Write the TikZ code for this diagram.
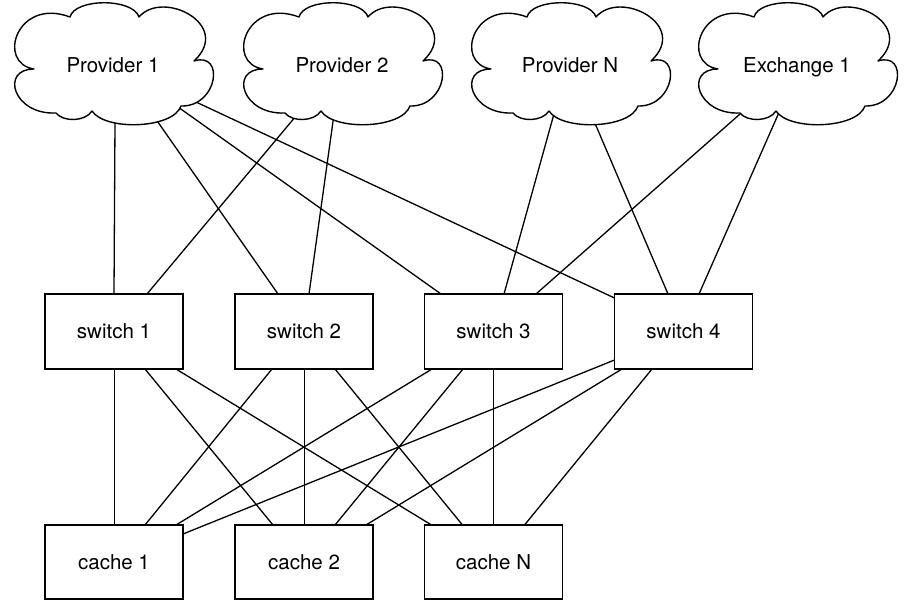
\documentclass[tikz,border=0pt]{standalone}
\usepackage{fontspec}
\setmainfont{TeX Gyre Heros}
\pgfdeclarelayer{paper}
\pgfdeclarelayer{background}
\pgfsetlayers{paper,background,main}
\tikzset{
  cloudline/.style={draw=black, line width=1.4pt, fill=white, line join=round},
  cloudshape/.pic={
    \path[cloudline] (-43,-48)
      .. controls (-38,-67) and (20,-67) .. (26,-48)
      .. controls (50,-76) and (120,-40) .. (81,-4)
      .. controls (112,-14) and (105,42) .. (68,41)
      .. controls (60,64) and (-8,66) .. (-21,46)
      .. controls (-28,57) and (-50,57) .. (-57,48)
      .. controls (-100,50) and (-113,4) .. (-79,4)
      .. controls (-117,-2) and (-96,-68) .. (-43,-48) -- cycle;
  },
  lbl/.style={font=\fontsize{20.5}{24}\selectfont, inner sep=0pt,
    text height=14.8pt, text depth=0pt},
  box/.style={draw=black, line width=1.4pt, fill=white, minimum width=138pt,
    minimum height=75pt, inner sep=0pt, outer sep=0pt,
    text height=14.8pt, text depth=0pt,
    font=\fontsize{20.5}{24}\selectfont},
  cbox/.style={box, minimum height=74pt},
  conn/.style={draw=black, line width=1.3pt},
  toc/.style={conn, shorten >=-10pt}
}
\begin{document}
\begin{tikzpicture}[x=1pt, y=-1pt]
\begin{pgfonlayer}{paper}
\fill[white] (0,0) rectangle (905,600);
\end{pgfonlayer}
\useasboundingbox (0,0) rectangle (905,600);

% clouds
\pic at (113,65) {cloudshape};
\node[lbl] (p1) at (113,65) {Provider 1};
\pic at (342,65) {cloudshape};
\node[lbl] (p2) at (342,65) {Provider 2};
\pic at (570,65) {cloudshape};
\node[lbl] (pn) at (570,65) {Provider N};
\pic at (797,65) {cloudshape};
\node[lbl] (e1) at (797,65) {Exchange 1};

% switches
\node[box] (s1) at (114,331.5) {switch 1};
\node[box] (s2) at (304,331.5) {switch 2};
\node[box] (s3) at (493.5,331.5) {switch 3};
\node[box] (s4) at (683.5,331.5) {switch 4};

% caches
\node[cbox] (c1) at (114,562) {cache 1};
\node[cbox] (c2) at (304,562) {cache 2};
\node[cbox] (cn) at (493.5,562) {cache N};

\begin{pgfonlayer}{background}
% clouds to switches
\draw[toc] (s1.north) -- ([shift={(2,56)}]p1.center);
\draw[toc] ([xshift=-26pt]s2.north) -- ([shift={(40,50)}]p1.center);
\draw[toc] ([xshift=-52.5pt]s3.north) -- ([shift={(65,42)}]p1.center);
\draw[toc] ([yshift=-4pt]s4.north west) -- ([shift={(83,37)}]p1.center);
\draw[toc] ([xshift=33pt]s1.north) -- ([shift={(-43.5,48)}]p2.center);
\draw[toc] ([xshift=5pt]s2.north) -- ([shift={(-8.5,53)}]p2.center);
\draw[toc] ([xshift=10.5pt]s3.north) -- ([shift={(-18,56)}]pn.center);
\draw[toc] ([xshift=-15.5pt]s4.north) -- ([shift={(24,56)}]pn.center);
\draw[toc] ([xshift=42.5pt]s3.north) -- ([shift={(-57,49)}]e1.center);
\draw[toc] ([xshift=15.5pt]s4.north) -- ([shift={(-20,52)}]e1.center);

% switches to caches
\draw[conn] ([xshift=0.5pt]s1.south) -- ([xshift=0.5pt]c1.north);
\draw[conn] ([xshift=31pt]s1.south) -- ([xshift=-31pt]c2.north);
\draw[conn] ([xshift=62pt]s1.south) -- ([xshift=-62pt]cn.north);
\draw[conn] ([xshift=-32pt]s2.south) -- ([xshift=31pt]c1.north);
\draw[conn] ([xshift=0.5pt]s2.south) -- ([xshift=0.5pt]c2.north);
\draw[conn] ([xshift=31pt]s2.south) -- ([xshift=-31pt]cn.north);
\draw[conn] ([xshift=-61.5pt]s3.south) -- ([xshift=62pt]c1.north);
\draw[conn] ([xshift=-30.5pt]s3.south) -- ([xshift=31pt]c2.north);
\draw[conn] (s3.south) -- (cn.north);
\draw[conn] ([yshift=9pt]s4.south west) -- ([yshift=-9pt]c1.north east);
\draw[conn] ([xshift=-61.5pt]s4.south) -- ([xshift=62pt]c2.north);
\draw[conn] ([xshift=-31.5pt]s4.south) -- ([xshift=31pt]cn.north);
\end{pgfonlayer}
\end{tikzpicture}
\end{document}
